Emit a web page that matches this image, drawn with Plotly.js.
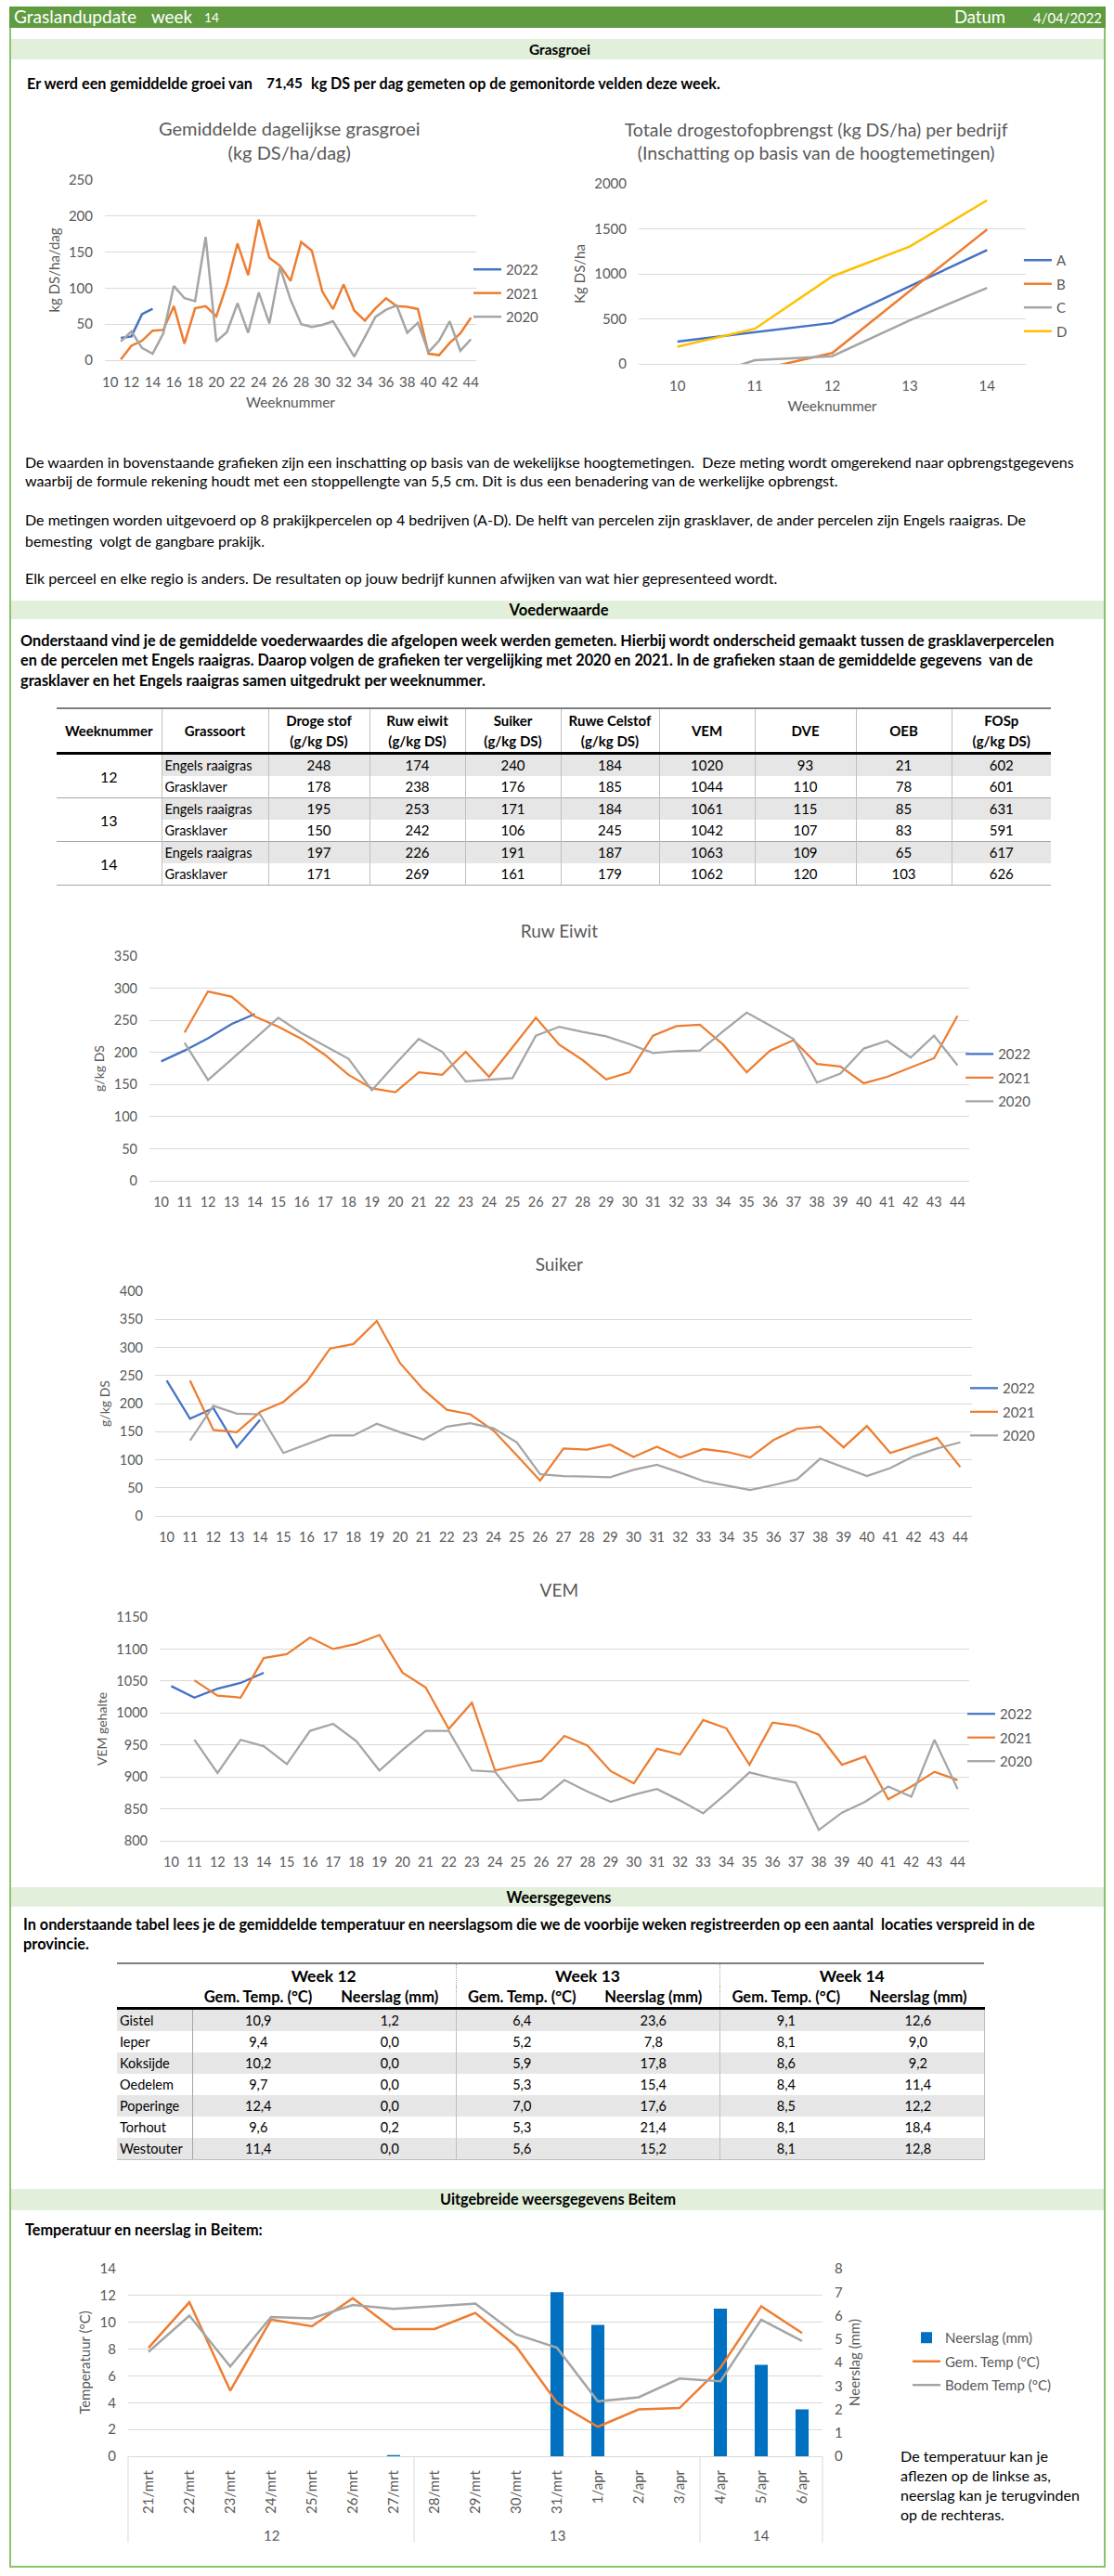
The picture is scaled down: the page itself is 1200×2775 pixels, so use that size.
<!DOCTYPE html>
<html><head><meta charset="utf-8">
<script src="https://cdn.plot.ly/plotly-3.0.1.min.js"></script>
<style>
html,body{margin:0;padding:0;background:#fff;}
body{width:1200px;height:2775px;position:relative;overflow:hidden;font-family:Lato,"Liberation Sans",Arial,sans-serif;color:#000;}
.frame{position:absolute;left:10px;top:7px;width:1181px;height:2759px;box-sizing:border-box;border:2px solid #8DC26F;}
.hdr{position:absolute;left:10px;top:7px;width:1181px;height:23px;background:#5F9B3F;}
.band{position:absolute;left:12px;width:1177px;background:#E2EFDA;}
.t{position:absolute;white-space:nowrap;line-height:20px;height:20px;font-size:14.5px;}
.b{font-weight:bold;}
.c{transform:translateX(-50%);}
.wh{color:#fff;}
.plot{position:absolute;}
table{border-collapse:collapse;table-layout:fixed;position:absolute;font-size:15px;}
td,th{padding:0;}
#t1{left:61px;top:762px;width:1071px;}
#t1 th{height:46px;line-height:22px;font-size:15px;border-top:2px solid #7F7F7F;border-bottom:3px solid #000;vertical-align:middle;text-align:center;}
#t1 td{height:23px;line-height:23px;text-align:center;}
#t2{left:126px;top:2114px;width:934px;font-size:14.5px;}
#t2 th{text-align:center;vertical-align:middle;}
#t2 td{height:23px;line-height:23px;text-align:center;}
</style></head>
<body>
<div class="frame"></div>
<div class="hdr"></div>
<span class="t wh" style="left:15px;top:8px;font-size:18px" data-w="132">Graslandupdate</span>
<span class="t wh" style="left:163px;top:8px;font-size:18px" data-w="44">week</span>
<span class="t wh" style="left:220px;top:9px;font-size:14px" data-w="16">14</span>
<span class="t wh" style="left:1028px;top:8px;font-size:18px" data-w="55">Datum</span>
<span class="t wh" style="left:1113px;top:9px;font-size:15px" data-w="74">4/04/2022</span>

<div class="band" style="top:42px;height:22px"></div>
<span class="t b c" style="left:603px;top:43px" data-w="66">Grasgroei</span>
<span class="t b" style="left:29px;top:80px" data-w="243">Er werd een gemiddelde groei van</span>
<span class="t b" style="left:287px;top:79px" data-w="39">71,45</span>
<span class="t b" style="left:335px;top:80px" data-w="441">kg DS per dag gemeten op de gemonitorde velden deze week.</span>

<div id="c1" class="plot" style="left:20px;top:120px;width:580px;height:330px"></div>
<div id="c2" class="plot" style="left:610px;top:120px;width:580px;height:330px"></div>

<span class="t" style="left:27px;top:488px" data-w="1130">De waarden in bovenstaande grafieken zijn een inschatting op basis van de wekelijkse hoogtemetingen.&nbsp; Deze meting wordt omgerekend naar opbrengstgegevens</span>
<span class="t" style="left:27px;top:508px" data-w="876">waarbij de formule rekening houdt met een stoppellengte van 5,5 cm. Dit is dus een benadering van de werkelijke opbrengst.</span>
<span class="t" style="left:27px;top:550px" data-w="1079">De metingen worden uitgevoerd op 8 prakijkpercelen op 4 bedrijven (A-D). De helft van percelen zijn grasklaver, de ander percelen zijn Engels raaigras. De</span>
<span class="t" style="left:27px;top:573px" data-w="258">bemesting&nbsp; volgt de gangbare prakijk.</span>
<span class="t" style="left:27px;top:613px" data-w="811">Elk perceel en elke regio is anders. De resultaten op jouw bedrijf kunnen afwijken van wat hier gepresenteed wordt.</span>

<div class="band" style="top:647px;height:20px"></div>
<span class="t b c" style="left:602px;top:647px" data-w="107">Voederwaarde</span>
<span class="t b" style="left:22px;top:680px" data-w="1114">Onderstaand vind je de gemiddelde voederwaardes die afgelopen week werden gemeten. Hierbij wordt onderscheid gemaakt tussen de grasklaverpercelen</span>
<span class="t b" style="left:22px;top:701px" data-w="1091">en de percelen met Engels raaigras. Daarop volgen de grafieken ter vergelijking met 2020 en 2021. In de grafieken staan de gemiddelde gegevens&nbsp; van de</span>
<span class="t b" style="left:22px;top:723px" data-w="501">grasklaver en het Engels raaigras samen uitgedrukt per weeknummer.</span>

<table id="t1"></table>

<div id="c3" class="plot" style="left:20px;top:985px;width:1160px;height:335px"></div>
<div id="c4" class="plot" style="left:20px;top:1345px;width:1160px;height:345px"></div>
<div id="c5" class="plot" style="left:20px;top:1695px;width:1160px;height:335px"></div>

<div class="band" style="top:2033px;height:21px"></div>
<span class="t b c" style="left:602px;top:2034px" data-w="113">Weersgegevens</span>
<span class="t b" style="left:25px;top:2063px" data-w="1090">In onderstaande tabel lees je de gemiddelde temperatuur en neerslagsom die we de voorbije weken registreerden op een aantal&nbsp; locaties verspreid in de</span>
<span class="t b" style="left:25px;top:2084px" data-w="71">provincie.</span>

<table id="t2"></table>

<div class="band" style="top:2358px;height:23px"></div>
<span class="t b c" style="left:601px;top:2359px" data-w="254">Uitgebreide weersgegevens Beitem</span>
<span class="t b" style="left:27px;top:2392px" data-w="256">Temperatuur en neerslag in Beitem:</span>

<div id="c6" class="plot" style="left:20px;top:2420px;width:1160px;height:330px"></div>

<span class="t" style="left:970px;top:2636px" data-w="159">De temperatuur kan je</span>
<span class="t" style="left:970px;top:2657px" data-w="162">aflezen op de linkse as,</span>
<span class="t" style="left:970px;top:2678px" data-w="193">neerslag kan je terugvinden</span>
<span class="t" style="left:970px;top:2699px" data-w="112">op de rechteras.</span>

<script>
// ---------- DATA ----------
const weeksAll = [10,11,12,13,14,15,16,17,18,19,20,21,22,23,24,25,26,27,28,29,30,31,32,33,34,35,36,37,38,39,40,41,42,43,44];
const weeksFrom11 = [11,12,13,14,15,16,17,18,19,20,21,22,23,24,25,26,27,28,29,30,31,32,33,34,35,36,37,38,39,40,41,42,43,44];
const weeks2022 = [10,11,12,13,14];
const evenWeekTicks = [10,12,14,16,18,20,22,24,26,28,30,32,34,36,38,40,42,44];

// Gemiddelde dagelijkse grasgroei (kg DS/ha/dag)
const groeiWeeks2022 = [11,12,13,14];
const groei2022 = [31,33,64,71.45];
const groei2021 = [1,20,27,41,42,75,23,72,75,61,105,162,118,195,142,131,110,164,152,95,71,105,69,55,72,86,75,74,71,9,7,24,37,59];
const groei2020 = [26,40,17,9,37,103,86,82,171,26,39,79,38,94,51,129,84,50,46,49,54,30,5,32,60,70,76,38,52,11,27,54,13,29];

// Totale drogestofopbrengst per bedrijf (kg DS/ha)
const bedrijfWeeks = [10,11,12,13,14];
const bedrijfA = [248,355,455,862,1265];
const bedrijfB = [null,-75,121,810,1493];
const bedrijfC = [-240,41,86,483,845];
const bedrijfD = [190,390,972,1303,1817];

// Ruw eiwit (g/kg DS)
const eiwit2022 = [186,203,222,244,260];
const eiwit2021 = [231,295,287,256,240,221,196,165,144,138,169,165,201,162,208,254,212,188,158,169,226,241,243,212,169,203,219,182,178,152,162,177,191,257];
const eiwit2020 = [215,157,189,221,254,230,210,190,141,182,221,201,155,157,160,226,240,232,225,213,199,202,203,233,262,242,221,153,167,206,218,192,226,180];

// Suiker (g/kg DS)
const suiker2022 = [241,173,192,122,171];
const suiker2021 = [241,153,149,185,203,239,298,306,347,272,225,189,181,152,108,63,120,118,127,105,123,104,119,114,104,135,155,159,122,160,112,126,139,87];
const suiker2020 = [134,196,182,181,112,127,143,143,164,149,136,159,165,156,131,74,71,70,69,82,91,77,62,54,46,55,65,102,87,71,85,106,120,131];

// VEM
const vem2022 = [1042,1024,1038,1047,1063];
const vem2021 = [1051,1027,1024,1086,1092,1118,1100,1108,1122,1063,1040,975,1016,910,918,925,964,949,909,890,944,935,989,976,919,985,980,966,919,932,865,885,908,895];
const vem2020 = [958,906,958,948,920,972,983,956,910,942,972,972,910,908,863,865,895,877,861,872,881,863,843,874,907,898,891,817,844,861,885,869,958,881];

// Voederwaarde tabel
const tblWeeks = [12,13,14];
const tblSoort = ["Engels raaigras","Grasklaver"];
const tblHeaders = ["Weeknummer","Grassoort","Droge stof<br>(g/kg DS)","Ruw eiwit<br>(g/kg DS)","Suiker<br>(g/kg DS)","Ruwe Celstof<br>(g/kg DS)","VEM","DVE","OEB","FOSp<br>(g/kg DS)"];
const tblDroge   = [248,178,195,150,197,171];
const tblRuwEiwit= [174,238,253,242,226,269];
const tblSuiker  = [240,176,171,106,191,161];
const tblCelstof = [184,185,184,245,187,179];
const tblVEM     = [1020,1044,1061,1042,1063,1062];
const tblDVE     = [93,110,115,107,109,120];
const tblOEB     = [21,78,85,83,65,103];
const tblFOSp    = [602,601,631,591,617,626];

// Weersgegevens tabel
const wWeeks = ["Week 12","Week 13","Week 14"];
const wSub = ["Gem. Temp. (°C)","Neerslag (mm)"];
const locaties = ["Gistel","Ieper","Koksijde","Oedelem","Poperinge","Torhout","Westouter"];
const temp12 = [10.9,9.4,10.2,9.7,12.4,9.6,11.4];
const neer12 = [1.2,0.0,0.0,0.0,0.0,0.2,0.0];
const temp13 = [6.4,5.2,5.9,5.3,7.0,5.3,5.6];
const neer13 = [23.6,7.8,17.8,15.4,17.6,21.4,15.2];
const temp14 = [9.1,8.1,8.6,8.4,8.5,8.1,8.1];
const neer14 = [12.6,9.0,9.2,11.4,12.2,18.4,12.8];

// Beitem
const beitemWeek = ["12","12","12","12","12","12","12","13","13","13","13","13","13","13","14","14","14"];
const beitemDates = ["21/mrt","22/mrt","23/mrt","24/mrt","25/mrt","26/mrt","27/mrt","28/mrt","29/mrt","30/mrt","31/mrt","1/apr","2/apr","3/apr","4/apr","5/apr","6/apr"];
const beitemNeerslag = [0,0,0,0,0,0,0.05,0,0,0,7.0,5.6,0,0,6.3,3.9,2.0];
const beitemGemTemp = [8.1,11.5,4.9,10.2,9.7,11.8,9.5,9.5,10.7,8.2,4.0,2.2,3.5,3.6,6.6,11.2,9.2];
const beitemBodemTemp = [7.8,10.5,6.7,10.4,10.3,11.3,11.0,11.2,11.4,9.1,8.1,4.1,4.4,5.8,5.6,10.2,8.6];

// ---------- STYLE ----------
const GRID='#D9D9D9', TXT='#595959';
const BLUE='#4472C4', ORANGE='#ED7D31', GRAY='#A5A5A5', YELLOW='#FFC000', BAR='#0070C0';
const FONT='Lato, "Liberation Sans", Arial, sans-serif';
const cfg={staticPlot:true};

function ln(x,y,name,color,w,grp){return {type:'scatter',mode:'lines',x:x,y:y,name:name,line:{color:color,width:w},legendgroup:grp,connectgaps:false};}

function baseLayout(w,h,m,title,tx,ty,tsize){
  return {width:w,height:h,margin:m,paper_bgcolor:'rgba(0,0,0,0)',plot_bgcolor:'rgba(0,0,0,0)',
    font:{family:FONT,color:TXT,size:14.5},hovermode:false,showlegend:true,
    title:{text:title,font:{size:tsize||19,color:TXT,family:FONT},x:tx,xref:'container',xanchor:'center',y:ty,yref:'container',yanchor:'middle'}};
}

// Chart 1
(function(){
  const L=baseLayout(580,330,{l:93,r:87,t:74,b:62},'Gemiddelde dagelijkse grasgroei<br>(kg DS/ha/dag)',0.503,0.922,20);
  L.font.size=15;
  L.xaxis={range:[9.5,44.5],tickvals:evenWeekTicks,showgrid:false,zeroline:false,showline:true,linecolor:GRID,ticks:'',ticklabelstandoff:10,tickfont:{size:15},
    title:{text:'Weeknummer',font:{size:15.5,color:TXT},standoff:9}};
  L.yaxis={range:[0,250],dtick:50,gridcolor:GRID,zeroline:false,ticks:'',ticklabelstandoff:12,tickfont:{size:15},
    title:{text:'kg DS/ha/dag',font:{size:15,color:TXT},standoff:5}};
  L.legend={x:0.98,y:0.588,xanchor:'left',yanchor:'top',font:{size:15,color:TXT},traceorder:'grouped',tracegroupgap:3,bgcolor:'rgba(0,0,0,0)'};
  Plotly.newPlot('c1',[ln(groeiWeeks2022,groei2022,'2022',BLUE,2.5,'a'),ln(weeksFrom11,groei2021,'2021',ORANGE,2.5,'b'),ln(weeksFrom11,groei2020,'2020',GRAY,2.5,'c')],L,cfg);
})();

// Chart 2
(function(){
  const L=baseLayout(580,330,{l:78,r:85,t:78,b:58},'Totale drogestofopbrengst (kg DS/ha) per bedrijf<br>(Inschatting op basis van de hoogtemetingen)',0.464,0.918,19.5);
  L.font.size=15;
  L.xaxis={range:[9.5,14.5],tickvals:bedrijfWeeks,showgrid:false,zeroline:false,showline:true,linecolor:GRID,ticks:'',ticklabelstandoff:10,tickfont:{size:15},
    title:{text:'Weeknummer',font:{size:15.5,color:TXT},standoff:9}};
  L.yaxis={range:[0,2000],dtick:500,gridcolor:GRID,zeroline:false,ticks:'',ticklabelstandoff:12,tickfont:{size:15},
    title:{text:'Kg DS/ha',font:{size:15,color:TXT},standoff:5}};
  L.legend={x:0.983,y:0.66,xanchor:'left',yanchor:'top',font:{size:15,color:TXT},traceorder:'grouped',tracegroupgap:3,bgcolor:'rgba(0,0,0,0)'};
  Plotly.newPlot('c2',[ln(bedrijfWeeks,bedrijfA,'A',BLUE,2.5,'a'),ln(bedrijfWeeks,bedrijfB,'B',ORANGE,2.5,'b'),ln(bedrijfWeeks,bedrijfC,'C',GRAY,2.5,'c'),ln(bedrijfWeeks,bedrijfD,'D',YELLOW,2.5,'d')],L,cfg);
})();

// Weekly charts
function weekChart(id,h,m,title,ty,yrange,ytitle,d22,d21,d20,lx,ly){
  const L=baseLayout(1160,h,m,title,0.502,ty);
  L.xaxis={range:[9.5,44.5],tickvals:weeksAll,showgrid:false,zeroline:false,showline:true,linecolor:GRID,ticks:'',ticklabelstandoff:10,tickfont:{size:14.5}};
  L.yaxis={range:yrange,dtick:50,gridcolor:GRID,zeroline:false,ticks:'',ticklabelstandoff:12,tickfont:{size:14.5},
    title:{text:ytitle,font:{size:14,color:TXT},standoff:6}};
  L.legend={x:lx,y:ly,xanchor:'left',yanchor:'top',font:{size:15,color:TXT},traceorder:'grouped',tracegroupgap:3,bgcolor:'rgba(0,0,0,0)'};
  Plotly.newPlot(id,[ln(weeks2022,d22,'2022',BLUE,2.25,'a'),ln(weeksFrom11,d21,'2021',ORANGE,2.25,'b'),ln(weeksFrom11,d20,'2020',GRAY,2.25,'c')],L,cfg);
}
weekChart('c3',335,{l:141,r:136,t:45,b:48},'Ruw Eiwit',0.946,[0,350],'g/kg DS',eiwit2022,eiwit2021,eiwit2020,0.99,0.632);
weekChart('c4',345,{l:147,r:133,t:46,b:57},'Suiker',0.951,[0,400],'g/kg DS',suiker2022,suiker2021,suiker2020,0.992,0.636);
weekChart('c5',335,{l:152,r:136,t:47,b:47},'VEM',0.946,[800,1150],'VEM gehalte',vem2022,vem2021,vem2020,0.992,0.635);

// Beitem chart
(function(){
  const n=beitemDates.length;
  // week groups derived from the data arrays
  const groups=[];
  beitemWeek.forEach((w,i)=>{
    if(!groups.length||groups[groups.length-1].w!==w) groups.push({w:w,s:i,e:i});
    else groups[groups.length-1].e=i;
  });
  const toPaper=idx=>(idx+0.5)/n;   // category index -> paper x
  const shapes=[], annotations=[];
  groups.forEach(g=>{
    shapes.push({type:'line',xref:'paper',yref:'paper',x0:toPaper(g.s-0.5),x1:toPaper(g.s-0.5),y0:0,y1:-0.46,line:{color:GRID,width:1}});
    annotations.push({xref:'paper',yref:'paper',x:toPaper((g.s+g.e)/2),y:-0.42,yanchor:'middle',xanchor:'center',showarrow:false,text:g.w,font:{size:15,color:TXT,family:FONT}});
  });
  shapes.push({type:'line',xref:'paper',yref:'paper',x0:toPaper(n-0.5),x1:toPaper(n-0.5),y0:0,y1:-0.46,line:{color:GRID,width:1}});

  const L={width:1160,height:330,margin:{l:118,r:294,t:24,b:104},paper_bgcolor:'rgba(0,0,0,0)',plot_bgcolor:'rgba(0,0,0,0)',
    font:{family:FONT,color:TXT,size:15},hovermode:false,showlegend:true,bargap:0.68,shapes:shapes,annotations:annotations,
    xaxis:{type:'category',tickangle:-90,showline:true,linecolor:GRID,showgrid:false,zeroline:false,ticks:'',ticklabelstandoff:8,tickfont:{size:15}},
    yaxis:{range:[0,8],dtick:1,side:'right',showgrid:false,zeroline:false,ticks:'',ticklabelstandoff:12,tickfont:{size:15},
      title:{text:'Neerslag (mm)',font:{size:15,color:TXT},standoff:8}},
    yaxis2:{range:[0,14],dtick:2,side:'left',overlaying:'y',gridcolor:GRID,showgrid:true,zeroline:false,ticks:'',ticklabelstandoff:12,tickfont:{size:15},
      title:{text:'Temperatuur (°C)',font:{size:15,color:TXT},standoff:6}},
    legend:{x:1.123,y:0.713,xanchor:'left',yanchor:'top',font:{size:15,color:TXT},traceorder:'grouped',tracegroupgap:3,bgcolor:'rgba(0,0,0,0)'}
  };
  Plotly.newPlot('c6',[
    {type:'bar',x:beitemDates,y:beitemNeerslag,name:'Neerslag (mm)',marker:{color:BAR},yaxis:'y',legendgroup:'a'},
    {type:'scatter',mode:'lines',x:beitemDates,y:beitemGemTemp,name:'Gem. Temp (°C)',line:{color:ORANGE,width:2.5},yaxis:'y2',legendgroup:'b'},
    {type:'scatter',mode:'lines',x:beitemDates,y:beitemBodemTemp,name:'Bodem Temp (°C)',line:{color:GRAY,width:2.5},yaxis:'y2',legendgroup:'c'}
  ],L,cfg);
})();

// ---------- TABLES ----------
(function(){
  const widths=[113,115,109,103,103,106,103,109,103,107];
  const cols=[tblDroge,tblRuwEiwit,tblSuiker,tblCelstof,tblVEM,tblDVE,tblOEB,tblFOSp];
  const VL='border-left:1px solid #BFBFBF;';
  let h='<colgroup>'+widths.map(w=>'<col style="width:'+w+'px">').join('')+'</colgroup><tr>';
  tblHeaders.forEach((t,i)=>{h+='<th style="'+(i?VL:'')+'">'+t+'</th>';});
  h+='</tr>';
  for(let r=0;r<6;r++){
    const g=Math.floor(r/2), first=(r%2===0);
    const top=(first&&g>0)?'border-top:1px solid #A6A6A6;':'';
    const bot=(r===5)?'border-bottom:1px solid #A6A6A6;':'';
    const bg=first?'background:#E7E6E6;':'';
    h+='<tr>';
    if(first) h+='<td rowspan="2" style="'+top+(g===2?'border-bottom:1px solid #A6A6A6;':'')+'font-size:16px">'+tblWeeks[g]+'</td>';
    h+='<td style="'+top+bot+bg+VL+'text-align:left;padding-left:3px;font-size:14.5px">'+tblSoort[r%2]+'</td>';
    cols.forEach(c=>{h+='<td style="'+top+bot+bg+VL+'">'+c[r]+'</td>';});
    h+='</tr>';
  }
  document.getElementById('t1').innerHTML=h;
})();

(function(){
  const widths=[81,142,142,142,142,143,142];
  const fmt=v=>v.toFixed(1).replace('.',',');
  const cols=[temp12,neer12,temp13,neer13,temp14,neer14];
  let h='<colgroup>'+widths.map(w=>'<col style="width:'+w+'px">').join('')+'</colgroup>';
  h+='<tr><th style="height:24px;border-top:2px solid #7F7F7F"></th>';
  wWeeks.forEach((w,i)=>{h+='<th colspan="2" style="height:24px;border-top:2px solid #7F7F7F;font-size:17.5px;'+(i?'border-left:1px dotted #A6A6A6;':'')+'">'+w+'</th>';});
  h+='</tr><tr><th style="height:22px;border-bottom:3px solid #000"></th>';
  for(let k=0;k<6;k++){h+='<th style="height:22px;border-bottom:3px solid #000;font-size:16.5px;'+((k===2||k===4)?'border-left:1px dotted #A6A6A6;':'')+'">'+wSub[k%2]+'</th>';}
  h+='</tr>';
  locaties.forEach((loc,r)=>{
    const bg=(r%2===0)?'background:#E7E6E6;':'';
    const bot=(r===locaties.length-1)?'border-bottom:1px solid #BFBFBF;':'';
    h+='<tr><td style="'+bg+bot+'text-align:left;padding-left:3px;border-right:1px solid #A6A6A6">'+loc+'</td>';
    cols.forEach((c,k)=>{h+='<td style="'+bg+bot+((k===2||k===4)?'border-left:1px solid #BFBFBF;':'')+(k===5?'border-right:1px solid #BFBFBF;':'')+'">'+fmt(c[r])+'</td>';});
    h+='</tr>';
  });
  document.getElementById('t2').innerHTML=h;
})();

// ---------- fit text widths ----------
document.querySelectorAll('[data-w]').forEach(el=>{
  const target=+el.dataset.w;
  const fs=parseFloat(getComputedStyle(el).fontSize);
  const w=el.getBoundingClientRect().width;
  if(w>0){el.style.fontSize=(fs*target/w).toFixed(2)+'px';}
});
</script>
</body></html>
